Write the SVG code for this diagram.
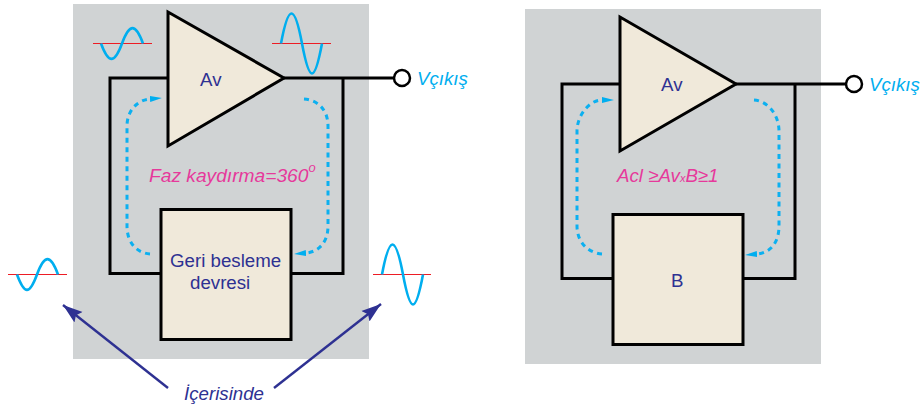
<svg xmlns="http://www.w3.org/2000/svg" width="920" height="410" viewBox="0 0 920 410">
<style>
text{font-family:"Liberation Sans",Arial,sans-serif;font-size:18.7px}
.panel{fill:#d0d3d4}
.amp,.box{fill:#f0e9da;stroke:#000;stroke-width:3}
.wire{fill:none;stroke:#000;stroke-width:3}
.term{fill:#fff;stroke:#000;stroke-width:2.5}
.lab{fill:#2e3192}
.it{font-style:italic}
.cy{fill:#00aeef}
.pk{fill:#e6399b}
.dash{fill:none;stroke:#0cb0f0;stroke-width:3;stroke-dasharray:5 4.500}
.ax{stroke:#ed1c24;stroke-width:1.2;fill:none}
.sine{stroke:#00aeef;stroke-width:2.6;fill:none}
.call{stroke:#2e3192;stroke-width:2.4;fill:none;marker-end:url(#big)}
</style>
<defs>
<marker id="big" markerUnits="userSpaceOnUse" markerWidth="22" markerHeight="16" refX="18" refY="6" orient="auto" viewBox="0 0 20 12"><path d="M0 0L18 6L0 12L3 6Z" fill="#2e3192"/></marker>
<marker id="cya" markerUnits="userSpaceOnUse" markerWidth="12" markerHeight="8" refX="0" refY="3" orient="auto" viewBox="0 0 12 6"><path d="M0 0L12 3L0 6Z" fill="#00aeef"/></marker>
</defs>
<g id="panel-left"><rect class="panel" x="73" y="4" width="296" height="355"/></g>
<g id="panel-right"><rect class="panel" x="525" y="9" width="296" height="355"/></g>
<g id="connectors">
<path class="wire" d="M284 78H395M343 78V273.500H291M168 78H110V273.500H161"/>
<path class="wire" d="M736 84H847M795 84V278.500H743M620 84H562V278.500H613"/>
<path class="dash" d="M150 254C137 253 127 243 127 226V126C127 111 137 100 150 99" marker-end="url(#cya)"/>
<path class="dash" d="M304 99C318 100 328 110 328 126V226C328 243 318 252 306 253" marker-end="url(#cya)"/>
<path class="dash" d="M602 254C589 253 577 243 577 226V131C577 116 589 100 602 100" marker-end="url(#cya)"/>
<path class="dash" d="M754 100C768 101 779 115 779 131V226C779 243 770 253 757 254" marker-end="url(#cya)"/>
<path class="call" d="M168 388L63 305"/>
<path class="call" d="M274 388L381 304"/>
</g>
<g id="amp-left"><path class="amp" d="M168 12V146L284 78Z"/><text class="lab" x="200" y="86">Av</text></g>
<g id="amp-right"><path class="amp" d="M620 17V151L736 84Z"/><text class="lab" x="661" y="91">Av</text></g>
<g id="box-left"><rect class="box" x="161" y="209.500" width="130" height="130"/><text class="lab" x="170" y="267">Geri besleme</text><text class="lab" x="190" y="289">devresi</text></g>
<g id="box-right"><rect class="box" x="613" y="214.500" width="130" height="130"/><text class="lab" x="671" y="287">B</text></g>
<g id="out-left"><circle class="term" cx="402" cy="78" r="8"/><text class="it cy" x="417" y="85">Vçıkış</text></g>
<g id="out-right"><circle class="term" cx="854" cy="84" r="8"/><text class="it cy" x="869" y="91">Vçıkış</text></g>
<g id="wave-in"><path class="ax" d="M93 43.500H152"/><path class="sine" d="M101 43.500C108.500 64 114.500 64 122 43.500C129.500 23 135.500 23 143 43.500"/></g>
<g id="wave-out"><path class="ax" d="M272 43.500H331"/><path class="sine" d="M281 43.500C288.500 3.500 294.500 3.500 302 43.500C309.500 83.500 314.500 83.500 322 43.500"/></g>
<g id="wave-fb-in"><path class="ax" d="M8 274.500H67"/><path class="sine" d="M17 274.500C24.500 295 29.500 295 37 274.500C44.500 254 50.500 254 58 274.500"/></g>
<g id="wave-fb-out"><path class="ax" d="M373 274.500H431"/><path class="sine" d="M382 274.500C389.500 234.500 395.500 234.500 403 274.500C410.500 314.500 415.500 314.500 423 274.500"/></g>
<g id="labels">
<text class="it pk" x="149" y="182" style="font-size:19.200px">Faz kaydırma=360<tspan dy="-10" font-size="13">o</tspan></text>
<text class="it pk" x="617" y="182">Acl ≥Av<tspan font-size="11">x</tspan>B≥1</text>
<text class="it lab" x="184" y="400">İçerisinde</text>
</g>
</svg>
